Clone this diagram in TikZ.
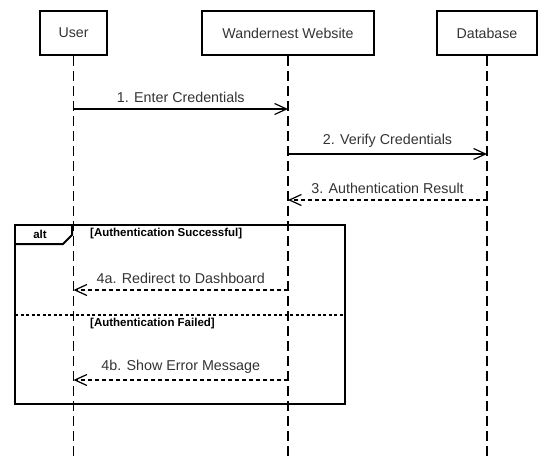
\documentclass[tikz,border=0pt]{standalone}
\usepackage{fontspec}
\setmainfont{Liberation Sans}
\usetikzlibrary{arrows.meta}
\definecolor{txt}{HTML}{333333}
\tikzset{
  participant/.style={draw=black, line width=2.6pt, minimum height=44pt, inner sep=0pt, text=txt, font=\fontsize{14.2}{16}\selectfont},
  lifeline/.style={draw=black, line width=1.5pt, dash pattern=on 10pt off 5pt},
  msg/.style={draw=black, line width=1.2pt, -{Straight Barb[length=12pt,width=11pt,line width=1.2pt]}},
  reply/.style={msg, dash pattern=on 4pt off 3pt},
  msglabel/.style={text=txt, font=\fontsize{14.3}{16}\selectfont, inner sep=0pt},
  guard/.style={text=black, font=\bfseries\fontsize{11.5}{13}\selectfont, inner sep=0pt, anchor=west},
  frame/.style={draw=black, line width=2pt},
}
\begin{document}
\begin{tikzpicture}[x=1pt,y=-1pt]
\useasboundingbox (0,0) rectangle (543,461);
% participants
\node[participant, minimum width=67pt] (user) at (73.5,33) {User};
\node[participant, minimum width=172pt] (web) at (288,33) {Wandernest Website};
\node[participant, minimum width=100pt] (db) at (487,33) {Database};
% lifeline ends
\coordinate (userend) at (73.5,461);
\coordinate (webend) at (288,461);
\coordinate (dbend) at (487,461);
\draw[lifeline] (user.south) -- (userend);
\draw[lifeline] (web.south) -- (webend);
\draw[lifeline] (db.south) -- (dbend);
% message points
\coordinate (u1) at (73.5,109);  \coordinate (w1) at (288,109);
\coordinate (w2) at (288,154);   \coordinate (d2) at (487,154);
\coordinate (d3) at (487,200);   \coordinate (w3) at (288,200);
\coordinate (w4) at (288,290);   \coordinate (u4) at (73.5,290);
\coordinate (w5) at (288,380);   \coordinate (u5) at (73.5,380);
% messages
\draw[msg] (u1) -- node[msglabel, above=6pt] {1. Enter Credentials} (w1);
\draw[msg] (w2) -- node[msglabel, above=6pt] {2. Verify Credentials} (d2);
\draw[reply] (d3) -- node[msglabel, above=6pt] {3. Authentication Result} (w3);
% alt frame
\coordinate (fnw) at (15,225);
\coordinate (fse) at (345,404);
\draw[frame] (fnw) rectangle (fse);
\coordinate (tabA) at (15,244);
\coordinate (tabB) at (63,244);
\coordinate (tabC) at (72,235);
\coordinate (tabD) at (72,225);
\draw[frame] (tabA) -- (tabB) -- (tabC) -- (tabD);
\node[font=\bfseries\fontsize{11.5}{13}\selectfont, inner sep=0pt] (alt) at (40,234) {alt};
\node[guard] (g1) at (90,234) {[Authentication Successful]};
\coordinate (divL) at (15,315);
\coordinate (divR) at (345,315);
\draw[black, line width=1.8pt, dash pattern=on 3pt off 2.5pt] (divL) -- (divR);
\node[guard] (g2) at (90,324) {[Authentication Failed]};
\draw[reply] (w4) -- node[msglabel, above=6pt] {4a. Redirect to Dashboard} (u4);
\draw[reply] (w5) -- node[msglabel, above=6pt] {4b. Show Error Message} (u5);
\end{tikzpicture}
\end{document}
